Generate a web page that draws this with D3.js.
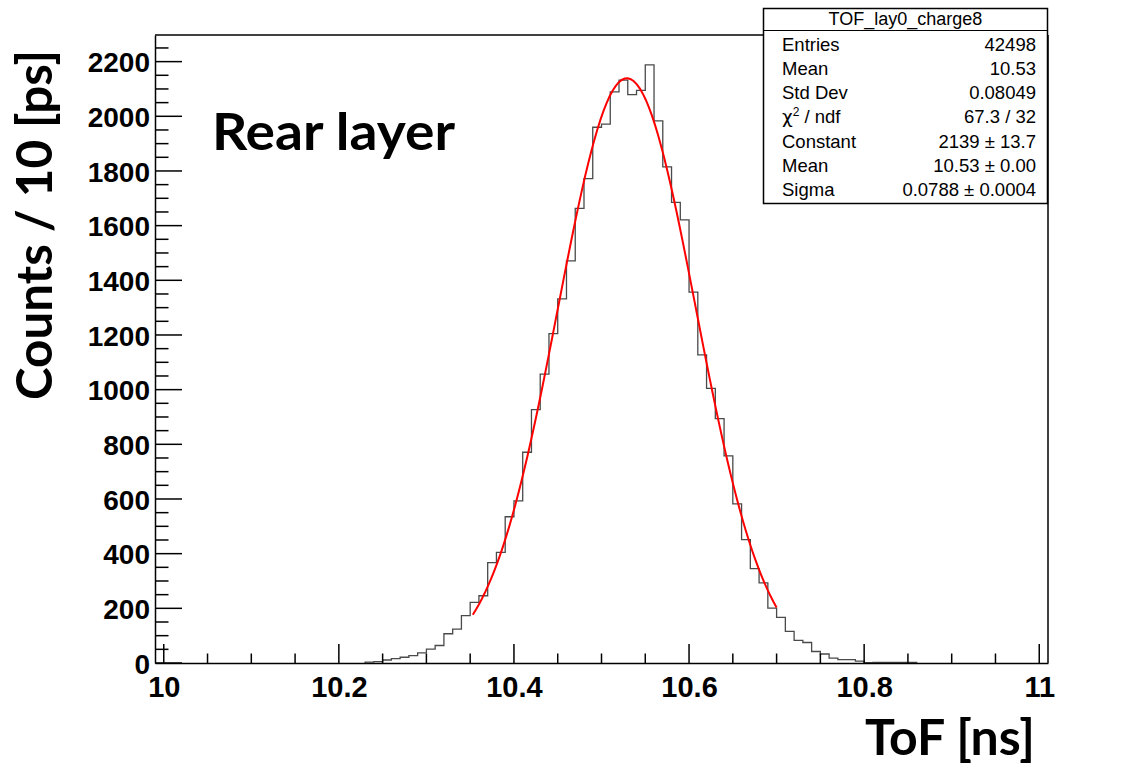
<!DOCTYPE html>
<html>
<head>
<meta charset="utf-8">
<script src="https://cdn.jsdelivr.net/npm/d3@7/dist/d3.min.js"></script>
<style>
  html, body { margin: 0; padding: 0; background: #fff; }
  svg { display: block; }
</style>
</head>
<body>
<svg id="chart" width="1132" height="765"></svg>
<script>
// ---------------- data ----------------
const histTitle = "TOF_lay0_charge8";
const binWidthNs = 0.01;
const binLowEdges = [
  10.23, 10.24, 10.25, 10.26, 10.27, 10.28, 10.29, 10.30, 10.31, 10.32,
  10.33, 10.34, 10.35, 10.36, 10.37, 10.38, 10.39, 10.40, 10.41, 10.42,
  10.43, 10.44, 10.45, 10.46, 10.47, 10.48, 10.49, 10.50, 10.51, 10.52,
  10.53, 10.54, 10.55, 10.56, 10.57, 10.58, 10.59, 10.60, 10.61, 10.62,
  10.63, 10.64, 10.65, 10.66, 10.67, 10.68, 10.69, 10.70, 10.71, 10.72,
  10.73, 10.74, 10.75, 10.76, 10.77, 10.78, 10.79, 10.80, 10.81, 10.82,
  10.83, 10.84, 10.85
];
const binCounts = [
  3, 5, 11, 16, 21, 27, 37, 51, 64, 107,
  124, 173, 222, 246, 367, 405, 535, 593, 771, 927,
  1057, 1205, 1332, 1471, 1663, 1772, 1960, 1971, 2089, 2132,
  2079, 2095, 2188, 1983, 1815, 1685, 1621, 1357, 1127, 1005,
  894, 758, 582, 451, 345, 293, 201, 167, 116, 83,
  75, 42, 33, 18, 12, 12, 7, 1, 2, 2,
  2, 2, 2
];
const xAxisRange = [9.99, 11.01];
const yAxisMax = 2297.4;
const xMajorTicks = [10, 10.2, 10.4, 10.6, 10.8, 11];
const xTickLabels = ["10", "10.2", "10.4", "10.6", "10.8", "11"];
const xMinorStep = 0.05;
const yMajorTicks = [0, 200, 400, 600, 800, 1000, 1200, 1400, 1600, 1800, 2000, 2200];
const yMinorStep = 50;
// Gaussian fit: [Constant, Mean, Sigma] and fit range
const fitParams = [2139, 10.529, 0.0788];
const fitRange = [10.353, 10.70];
const statLabels = ["Entries", "Mean", "Std Dev", "CHI2", "Constant", "Mean", "Sigma"];
const statValues = ["42498", "10.53", "0.08049", "67.3 / 32", "2139 \u00b1 13.7", "10.53 \u00b1 0.00", "0.0788 \u00b1 0.0004"];
const xTitle = "ToF [ns]";
const yTitle = "Counts / 10 [ps]";
const panelLabel = "Rear layer";

// ---------------- layout ----------------
const svg = d3.select("#chart");
const frame = { left: 155, right: 1048, top: 35, bottom: 663 };
const x = d3.scaleLinear().domain(xAxisRange).range([frame.left, frame.right]);
const y = d3.scaleLinear().domain([0, yAxisMax]).range([frame.bottom, frame.top]);

// histogram outline
const pts = [];
pts.push([binLowEdges[0], 0]);
binLowEdges.forEach((lo, i) => {
  pts.push([lo, binCounts[i]]);
  pts.push([lo + binWidthNs, binCounts[i]]);
});
pts.push([binLowEdges[binLowEdges.length - 1] + binWidthNs, 0]);
const histLine = d3.line().x(d => x(d[0])).y(d => y(d[1]));
svg.append("path")
  .attr("d", histLine(pts))
  .attr("fill", "none")
  .attr("stroke", "#4a4a4a")
  .attr("stroke-width", 1.3);

// fit curve
const nFit = 100;
const fitPts = d3.range(nFit + 1).map(i => {
  const xv = fitRange[0] + (fitRange[1] - fitRange[0]) * i / nFit;
  const z = (xv - fitParams[1]) / fitParams[2];
  return [xv, fitParams[0] * Math.exp(-0.5 * z * z)];
});
svg.append("path")
  .attr("d", d3.line().x(d => x(d[0])).y(d => y(d[1]))(fitPts))
  .attr("fill", "none")
  .attr("stroke", "#ff0000")
  .attr("stroke-width", 2);

// frame
const fg = svg.append("g").attr("stroke", "#000").attr("fill", "none").attr("stroke-width", 1.5);
fg.append("line").attr("x1", frame.left).attr("x2", frame.right).attr("y1", frame.top).attr("y2", frame.top);
fg.append("line").attr("x1", frame.right).attr("x2", frame.right).attr("y1", frame.top).attr("y2", frame.bottom);

// x axis
const xMinor = d3.range(10, 11.0001, xMinorStep).filter(v => !xMajorTicks.some(m => Math.abs(m - v) < 1e-6));
const xAxis = d3.axisBottom(x).tickValues(xMajorTicks).tickSize(0).tickFormat((d, i) => xTickLabels[i]);
const xg = svg.append("g").attr("transform", `translate(0,${frame.bottom})`).call(xAxis);
xg.select(".domain").attr("stroke", "#000").attr("stroke-width", 1.5);
xg.selectAll(".tick text")
  .attr("y", 34)
  .attr("dy", 0)
  .attr("font-family", "'Liberation Sans', Arial, sans-serif")
  .attr("font-weight", "bold")
  .attr("font-size", 29)
  .attr("fill", "#000");
const xt = svg.append("g").attr("stroke", "#000").attr("stroke-width", 1.5);
xMajorTicks.forEach(v => xt.append("line").attr("x1", x(v)).attr("x2", x(v)).attr("y1", frame.bottom).attr("y2", frame.bottom - 19));
xMinor.forEach(v => xt.append("line").attr("x1", x(v)).attr("x2", x(v)).attr("y1", frame.bottom).attr("y2", frame.bottom - 9.5));

// y axis
const yMinor = d3.range(0, yAxisMax, yMinorStep).filter(v => v % 200 !== 0);
const yAxis = d3.axisLeft(y).tickValues(yMajorTicks).tickSize(0).tickFormat(d3.format("d"));
const yg = svg.append("g").attr("transform", `translate(${frame.left},0)`).call(yAxis);
yg.select(".domain").attr("stroke", "#000").attr("stroke-width", 1.5);
yg.selectAll(".tick text")
  .attr("x", -5)
  .attr("dy", "0.36em")
  .attr("font-family", "'Liberation Sans', Arial, sans-serif")
  .attr("font-weight", "bold")
  .attr("font-size", 28)
  .attr("fill", "#000");
const yt = svg.append("g").attr("stroke", "#000").attr("stroke-width", 1.5);
yMajorTicks.forEach(v => yt.append("line").attr("x1", frame.left).attr("x2", frame.left + 27).attr("y1", y(v)).attr("y2", y(v)));
yMinor.forEach(v => yt.append("line").attr("x1", frame.left).attr("x2", frame.left + 13.5).attr("y1", y(v)).attr("y2", y(v)));

// axis titles
svg.append("text")
  .attr("x", 1035).attr("y", 755)
  .attr("text-anchor", "end")
  .attr("font-family", "Lato, 'Open Sans', sans-serif")
  .attr("font-weight", "bold")
  .attr("font-size", 50)
  .attr("textLength", 170).attr("lengthAdjust", "spacingAndGlyphs")
  .text(xTitle);
svg.append("text")
  .attr("transform", "translate(52,225) rotate(-90)")
  .attr("text-anchor", "middle")
  .attr("font-family", "Lato, 'Open Sans', sans-serif")
  .attr("font-weight", "bold")
  .attr("font-size", 50)
  .attr("textLength", 350).attr("lengthAdjust", "spacingAndGlyphs")
  .text(yTitle);
svg.append("text")
  .attr("x", 212).attr("y", 150)
  .attr("font-family", "Lato, 'Open Sans', sans-serif")
  .attr("font-weight", "bold")
  .attr("font-size", 52)
  .attr("textLength", 243).attr("lengthAdjust", "spacingAndGlyphs")
  .text(panelLabel);

// stats box
const box = { x: 763.5, y: 8.5, w: 284, h: 195 };
const sb = svg.append("g");
sb.append("rect").attr("x", box.x).attr("y", box.y).attr("width", box.w).attr("height", box.h)
  .attr("fill", "#fff").attr("stroke", "#000").attr("stroke-width", 1.5);
sb.append("line").attr("x1", box.x).attr("x2", box.x + box.w).attr("y1", 30.5).attr("y2", 30.5)
  .attr("stroke", "#000").attr("stroke-width", 1.2);
const statFont = "'Liberation Sans', Arial, sans-serif";
sb.append("text").attr("x", box.x + box.w / 2).attr("y", 25)
  .attr("text-anchor", "middle").attr("font-family", statFont).attr("font-size", 18)
  .text(histTitle);
const rowY = d3.scaleLinear().domain([0, statLabels.length - 1]).range([50.5, 196]);
statLabels.forEach((lab, i) => {
  const t = sb.append("text").attr("x", 782).attr("y", rowY(i))
    .attr("font-family", statFont).attr("font-size", 18.5);
  if (lab === "CHI2") {
    t.append("tspan").attr("font-family", "'DejaVu Sans', sans-serif").text("\u03c7");
    t.append("tspan").attr("dy", -7).attr("font-size", 12).text("2");
    t.append("tspan").attr("dy", 7).text(" / ndf");
  } else {
    t.text(lab);
  }
  sb.append("text").attr("x", 1036).attr("y", rowY(i))
    .attr("text-anchor", "end").attr("font-family", statFont).attr("font-size", 18.5)
    .text(statValues[i]);
});
</script>
</body>
</html>
